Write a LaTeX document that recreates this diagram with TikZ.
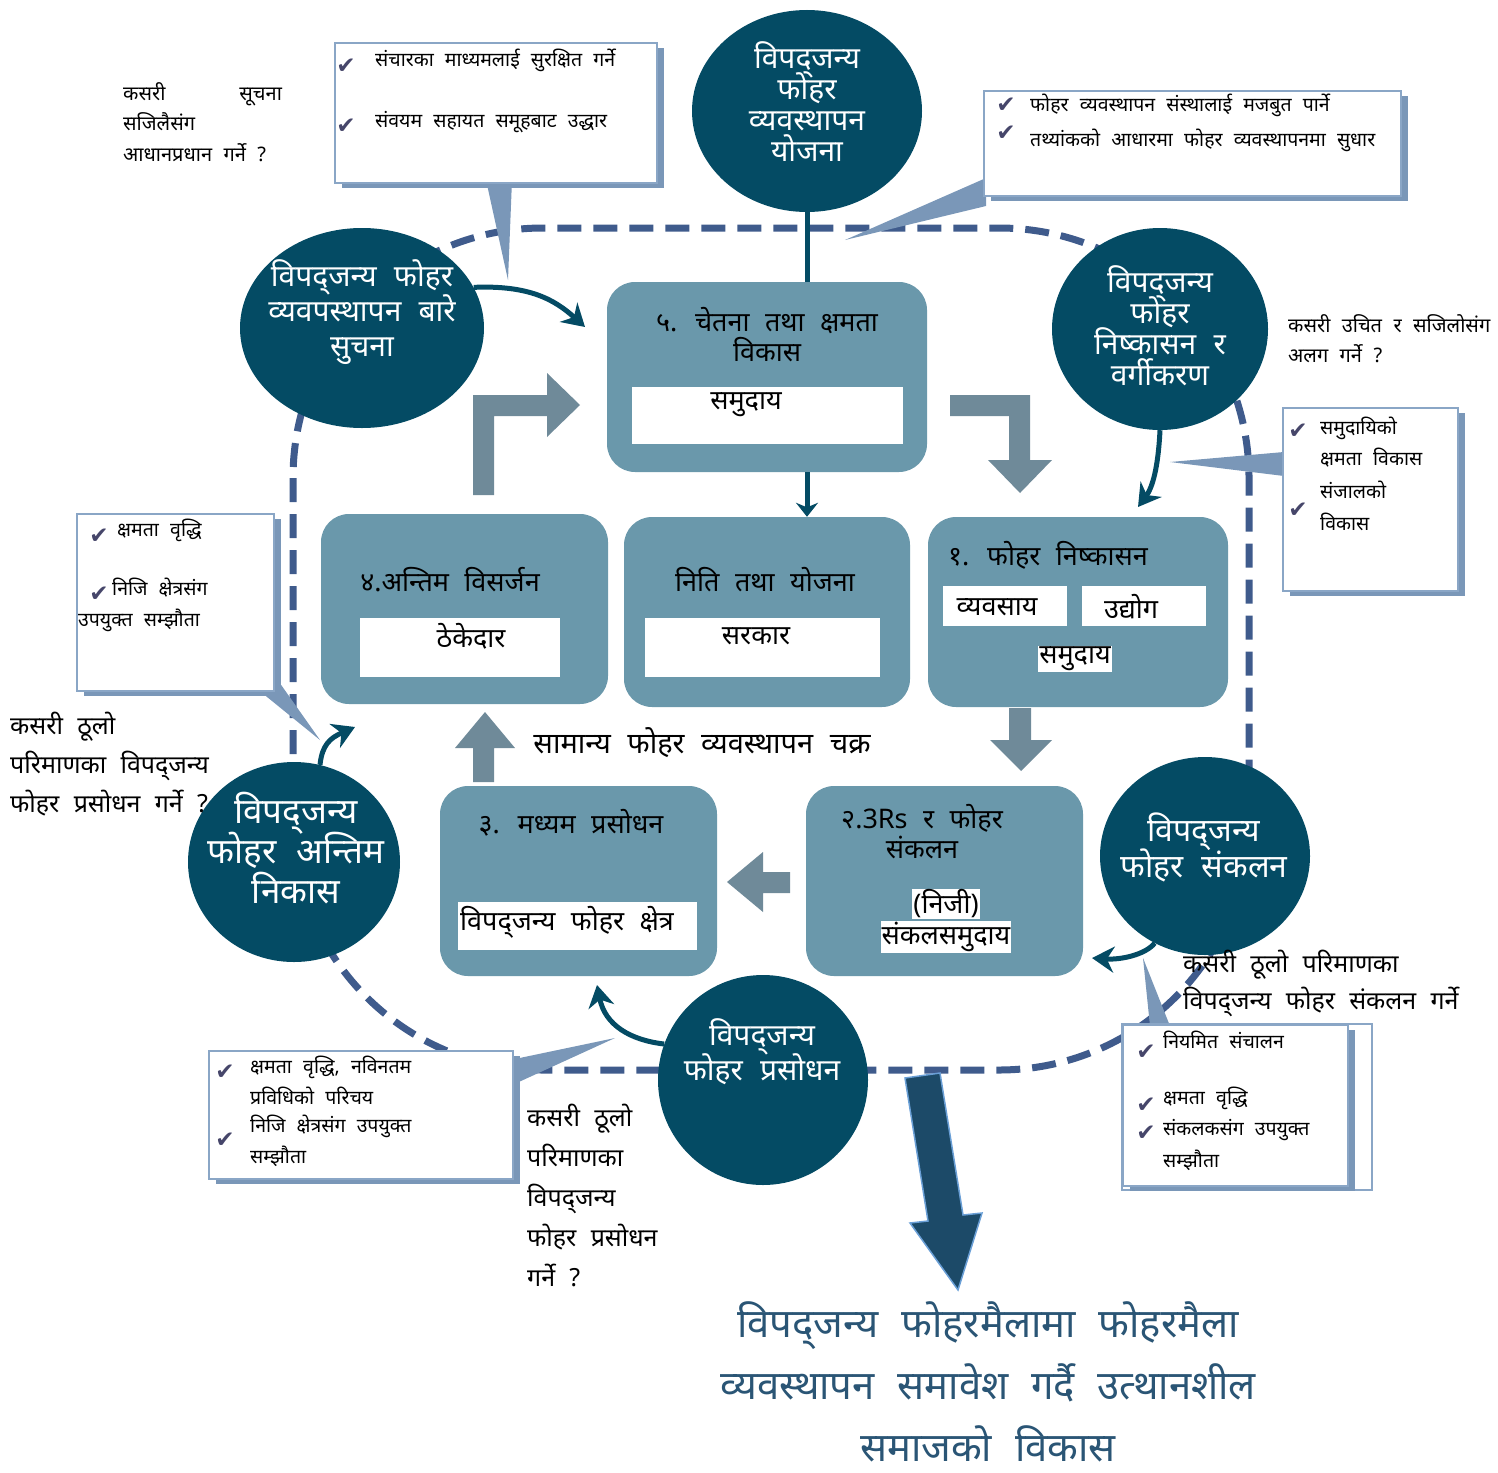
\documentclass[tikz,border=0pt]{standalone}
\usepackage{fontspec}
\setmainfont{Noto Sans}[Script=Devanagari, WordSpace=2.2]
\newfontfamily\symf{DejaVu Sans}
\usetikzlibrary{arrows.meta,shapes.geometric,shadows}
\definecolor{circ}{HTML}{044B64}
\definecolor{boxc}{HTML}{6A98AB}
\definecolor{blk}{HTML}{6F8A99}
\definecolor{dashc}{HTML}{3F5B8C}
\definecolor{cbd}{HTML}{8AA6C6}
\definecolor{cptr}{HTML}{7A97B8}
\definecolor{chk}{HTML}{46466A}
\definecolor{ttl}{HTML}{2A5575}
\definecolor{bigar}{HTML}{1C4A68}
\definecolor{bigbd}{HTML}{6A9FD6}
\def\vip{विपद्^^^^200cजन्य}
\newcommand\fs[2]{\fontsize{#1}{#2}\selectfont\lineskiplimit=-100pt\relax}
\tikzset{
 circn/.style={ellipse, fill=circ, draw=none, inner sep=0pt},
 ctxt/.style={text=white, align=center, inner sep=0pt},
 rbox/.style={fill=boxc, rounded corners=28pt, inner sep=0pt},
 wbox/.style={fill=white, inner sep=0pt},
 callout/.style={draw=cbd, line width=2pt, fill=white, inner sep=0pt, anchor=north west,
   general shadow={fill=cptr, shadow xshift=7pt, shadow yshift=-5pt}},
 ptr/.style={fill=cptr},
 blkar/.style={fill=blk},
 carrow/.style={draw=circ, line width=5pt, -{Stealth[length=22pt,width=26pt]}},
 loopline/.style={draw=dashc, line width=7pt, dash pattern=on 24pt off 12pt, rounded corners=250pt},
 chkm/.style={text=chk, font=\symf\fs{23}{23}, inner sep=0pt},
 ct/.style={anchor=west, inner sep=0pt, font=\fs{19.5}{22}},
 btxt/.style={inner sep=0pt, align=center, font=\fs{27}{30}},
 qt/.style={anchor=west, inner sep=0pt, align=left},
}
\begin{document}
\begin{tikzpicture}[x=1pt,y=-1pt]
\useasboundingbox (0,0) rectangle (1498,1472);
% dashed cycle
\draw[loopline] (293,228) rectangle (1249,1070);
% callout pointers
\fill[ptr] (486,180) -- (512,180) -- (508,280) -- cycle;
\fill[ptr] (845,240) -- (986,178) -- (986,206) -- cycle;
\fill[ptr] (1170,462) -- (1284,452) -- (1284,476) -- cycle;
\fill[ptr] (256,688) -- (272,672) -- (320,740) -- cycle;
\fill[ptr] (510,1060) -- (510,1086) -- (615,1038) -- cycle;
\fill[ptr] (1143,958) -- (1150,1026) -- (1170,1026) -- cycle;
% callouts
\node[callout, minimum width=322pt, minimum height=140pt] (co1) at (334,42) {};
\node[callout, minimum width=417pt, minimum height=105pt] (co2) at (983,90) {};
\node[callout, minimum width=175pt, minimum height=183pt] (co3) at (1282,407) {};
\node[callout, minimum width=197pt, minimum height=177pt] (co4) at (76,513) {};
\node[callout, minimum width=304pt, minimum height=128pt] (co5) at (208,1050) {};
\draw[cbd, line width=1.5pt] (1122,1024) rectangle (1372,1190);
\node[callout, minimum width=225pt, minimum height=161pt] (co6) at (1122,1024) {};
% callout texts
\node[chkm] (k1) at (346,66) {✔};
\node[chkm] (k2) at (346,126) {✔};
\node[ct] (t1a) at (375,60) {संचारका माध्यमलाई सुरक्षित गर्ने};
\node[ct] (t1b) at (375,122) {संवयम सहायत समूहबाट उद्धार};
\node[chkm] (k3) at (1006,105) {✔};
\node[chkm] (k4) at (1006,133) {✔};
\node[ct] (t2a) at (1030,105) {फोहर व्यवस्थापन संस्थालाई मजबुत पार्ने};
\node[ct] (t2b) at (1030,140) {तथ्यांकको आधारमा फोहर व्यवस्थापनमा सुधार};
\node[chkm] (k5) at (1298,431) {✔};
\node[chkm] (k6) at (1298,510) {✔};
\node[ct] (t3a) at (1320,428) {समुदायिको};
\node[ct] (t3b) at (1320,458) {क्षमता विकास};
\node[ct] (t3c) at (1320,490) {संजालको};
\node[ct] (t3d) at (1320,522) {विकास};
\node[chkm] (k7) at (99,536) {✔};
\node[chkm] (k8) at (99,594) {✔};
\node[ct] (t4a) at (117,530) {क्षमता वृद्धि};
\node[ct] (t4b) at (112,588) {निजि क्षेत्रसंग};
\node[ct] (t4c) at (78,620) {उपयुक्त सम्झौता};
\node[chkm] (k9) at (225,1072) {✔};
\node[chkm] (k10) at (225,1140) {✔};
\node[ct] (t5a) at (250,1067) {क्षमता वृद्धि, नविनतम};
\node[ct] (t5b) at (250,1096) {प्रविधिको परिचय};
\node[ct] (t5c) at (250,1126) {निजि क्षेत्रसंग उपयुक्त};
\node[ct] (t5d) at (250,1156) {सम्झौता};
\node[chkm] (k11) at (1146,1052) {✔};
\node[chkm] (k12) at (1146,1105) {✔};
\node[chkm] (k13) at (1146,1133) {✔};
\node[ct] (t6a) at (1163,1040) {नियमित संचालन};
\node[ct] (t6b) at (1163,1098) {क्षमता वृद्धि};
\node[ct] (t6c) at (1163,1130) {संकलकसंग उपयुक्त};
\node[ct] (t6d) at (1163,1160) {सम्झौता};
% block arrows
\fill[blkar] (473,495) -- (473,395) -- (547,395) -- (547,373) -- (580,405) -- (547,437) -- (547,416) -- (494,416) -- (494,495) -- cycle;
\fill[blkar] (950,395) -- (1030,395) -- (1030,460) -- (1052,460) -- (1020,493) -- (988,460) -- (1009,460) -- (1009,416) -- (950,416) -- cycle;
\fill[blkar] (1009,708) -- (1031,708) -- (1031,740) -- (1052,740) -- (1021,771) -- (990,740) -- (1009,740) -- cycle;
\fill[blkar] (790,872) -- (790,893) -- (763,893) -- (763,912) -- (727,882) -- (763,852) -- (763,872) -- cycle;
\fill[blkar] (473,782) -- (494,782) -- (494,748) -- (515,748) -- (485,712) -- (455,748) -- (473,748) -- cycle;
% rounded boxes
\node[rbox, minimum width=320pt, minimum height=190pt] (b5) at (767,377) {};
\node[rbox, minimum width=287pt, minimum height=190pt] (b4) at (464.5,609) {};
\node[rbox, minimum width=286pt, minimum height=190pt] (bc) at (767,612) {};
\node[rbox, minimum width=300pt, minimum height=190pt] (b1) at (1078,612) {};
\node[rbox, minimum width=277pt, minimum height=190pt] (b3) at (578.5,881) {};
\node[rbox, minimum width=277pt, minimum height=190pt] (b2) at (944.5,881) {};
% white inner boxes
\node[wbox, minimum width=271pt, minimum height=57pt] (b5w) at (767.5,415.5) {};
\node[wbox, minimum width=200pt, minimum height=59pt] (b4w) at (460,647.5) {};
\node[wbox, minimum width=235pt, minimum height=59pt] (bcw) at (762.5,647.5) {};
\node[wbox, minimum width=124pt, minimum height=40pt] (b1w1) at (1005,606) {};
\node[wbox, minimum width=124pt, minimum height=40pt] (b1w2) at (1144,606) {};
\node[wbox, minimum width=239pt, minimum height=48pt] (b3w) at (577.5,926) {};
% box texts
\node[btxt] (b5t) at (767,335) {५. चेतना तथा क्षमता\\विकास};
\node[btxt] (b5s) at (746,405) {समुदाय};
\node[btxt] (b4t) at (450,580) {४.अन्तिम विसर्जन};
\node[btxt] (b4s) at (471,636) {ठेकेदार};
\node[btxt] (bct) at (765,580) {निति तथा योजना};
\node[btxt] (bcs) at (756,636) {सरकार};
\node[btxt] (b1t) at (1048,555) {१. फोहर निष्कासन};
\node[btxt] (b1s1) at (997,607) {व्यवसाय};
\node[btxt] (b1s2) at (1131,607) {उद्योग};
\node[btxt, fill=white, inner sep=1pt] (b1s3) at (1075,659) {समुदाय};
\node[btxt] (b3t) at (571,823) {३. मध्यम प्रसोधन};
\node[btxt, anchor=west] (b3s) at (460,922) {\vip{} फोहर क्षेत्र};
\node[btxt] (b2t) at (922,832) {२.3Rs र फोहर\\संकलन};
\node[btxt, fill=white, inner sep=1pt] (b2s1) at (946,904) {(निजी)};
\node[btxt, fill=white, inner sep=1pt] (b2s2) at (946,937) {संकलसमुदाय};
% circles
\node[circn, minimum width=230pt, minimum height=202pt] (ctop) at (807,111) {};
\node[circn, minimum width=244pt, minimum height=200pt] (ctl) at (362,328) {};
\node[circn, minimum width=216pt, minimum height=202pt] (ctr) at (1160,329) {};
\node[circn, minimum width=212pt, minimum height=200pt] (clf) at (294,862) {};
\node[circn, minimum width=210pt, minimum height=198pt] (crt) at (1205,856) {};
\node[circn, minimum width=210pt, minimum height=210pt] (cbt) at (763,1080) {};
\node[ctxt, font=\bfseries\fs{30}{31}] (ctopt) at (807,102) {\vip\\फोहर\\व्यवस्थापन\\योजना};
\node[ctxt, font=\bfseries\fs{30}{35}] (ctlt) at (362,312) {\vip{} फोहर\\व्यवपस्थापन बारे\\सुचना};
\node[ctxt, font=\bfseries\fs{30}{31}] (ctrt) at (1160,326) {\vip\\फोहर\\निष्कासन र\\वर्गीकरण};
\node[ctxt, font=\bfseries\fs{35}{40}] (clft) at (296,848) {\vip\\फोहर अन्तिम\\निकास};
\node[ctxt, font=\bfseries\fs{32}{36}] (crtt) at (1204,847) {\vip\\फोहर संकलन};
\node[ctxt, font=\bfseries\fs{30}{35}] (cbtt) at (762,1052) {\vip\\फोहर प्रसोधन};
% connectors from circles
\draw[draw=circ, line width=5pt] (ctop.south) -- (ctop.south |- b5.north);
\draw[draw=circ, line width=5pt, -{Stealth[length=14pt,width=22pt]}] (ctop.south |- b5.south) -- (ctop.south |- bc.north);
\draw[carrow] (ctl.20) .. controls (530,285) and (555,300) .. (585,327);
\draw[carrow] (ctr.south) .. controls (1158,470) and (1152,488) .. (1138,507);
\draw[carrow] (crt.240) .. controls (1145,955) and (1120,960) .. (1092,958);
\draw[carrow] (cbt.160) .. controls (630,1040) and (605,1025) .. (597,985);
\draw[carrow] (clf.75) .. controls (322,745) and (330,738) .. (355,727);
% question texts
\node[qt, font=\fs{20}{30.5}] (q1) at (123,122) {कसरी\hspace{74pt}सूचना\\सजिलैसंग\\आधानप्रधान गर्ने ?};
\node[qt, font=\fs{20}{30}] (q2) at (1288,339) {कसरी उचित र सजिलोसंग\\अलग गर्ने ?};
\node[qt, font=\fs{25}{39}] (q3) at (10,764) {कसरी ठूलो\\परिमाणका \vip\\फोहर प्रसोधन गर्ने ?};
\node[qt, font=\fs{25}{37}] (q4) at (1183,983) {कसरी ठूलो परिमाणका\\\vip{} फोहर संकलन गर्ने};
\node[qt, font=\fs{25}{40}] (q5) at (527,1195) {कसरी ठूलो\\परिमाणका\\\vip\\फोहर प्रसोधन\\गर्ने ?};
\node[inner sep=0pt, font=\bfseries\fs{29}{30}] (cyc) at (702,743) {सामान्य फोहर व्यवस्थापन चक्र};
% big arrow
\filldraw[fill=bigar, draw=bigbd, line width=1.5pt, line join=miter] (905,1078) -- (940,1073) -- (963,1215) -- (982,1213) -- (958,1290) -- (910,1223) -- (928,1221) -- cycle;
\node[inner sep=0pt, align=center, text=ttl, font=\fs{40}{62}] (goal) at (988,1382) {\vip{} फोहरमैलामा फोहरमैला\\व्यवस्थापन समावेश गर्दै उत्थानशील\\समाजको विकास};
\end{tikzpicture}
\end{document}
